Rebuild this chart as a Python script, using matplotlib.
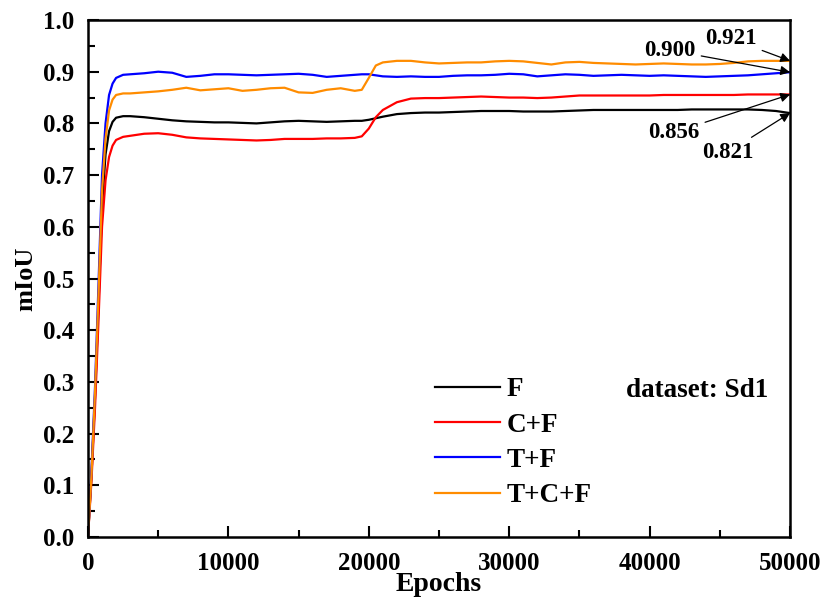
import matplotlib
matplotlib.use("Agg")
import matplotlib.pyplot as plt
from matplotlib.ticker import MultipleLocator

epochs = [0, 250, 500, 750, 1000, 1250, 1500, 1750, 2000, 2500,
          3000, 4000, 5000, 6000, 7000, 8000, 9000, 10000, 11000, 12000,
          13000, 14000, 15000, 16000, 17000, 18000, 19000, 19500, 20000, 20500,
          21000, 22000, 23000, 24000, 25000, 26000, 27000, 28000, 29000, 30000,
          31000, 32000, 33000, 34000, 35000, 36000, 37000, 38000, 39000, 40000,
          41000, 42000, 43000, 44000, 45000, 46000, 47000, 48000, 49000, 50000]

miou_f = [0.0, 0.12, 0.27, 0.45, 0.64, 0.74, 0.785, 0.803, 0.811, 0.814,
          0.814, 0.812, 0.809, 0.806, 0.804, 0.803, 0.802, 0.802, 0.801, 0.800,
          0.802, 0.804, 0.805, 0.804, 0.803, 0.804, 0.805, 0.805, 0.807, 0.810,
          0.813, 0.818, 0.820, 0.821, 0.821, 0.822, 0.823, 0.824, 0.824, 0.824,
          0.823, 0.823, 0.823, 0.824, 0.825, 0.826, 0.826, 0.826, 0.826, 0.826,
          0.826, 0.826, 0.827, 0.827, 0.827, 0.827, 0.827, 0.826, 0.824, 0.820]

miou_cf = [0.0, 0.11, 0.25, 0.42, 0.60, 0.69, 0.735, 0.757, 0.768, 0.774,
           0.776, 0.780, 0.781, 0.778, 0.773, 0.771, 0.770, 0.769, 0.768, 0.767,
           0.768, 0.770, 0.770, 0.770, 0.771, 0.771, 0.772, 0.775, 0.790, 0.812,
           0.826, 0.841, 0.848, 0.849, 0.849, 0.850, 0.851, 0.852, 0.851, 0.850,
           0.850, 0.849, 0.850, 0.852, 0.854, 0.854, 0.854, 0.854, 0.854, 0.854,
           0.855, 0.855, 0.855, 0.855, 0.855, 0.855, 0.856, 0.856, 0.856, 0.856]

miou_tf = [0.0, 0.13, 0.29, 0.49, 0.70, 0.80, 0.855, 0.877, 0.888, 0.894,
           0.895, 0.897, 0.900, 0.898, 0.890, 0.892, 0.895, 0.895, 0.894, 0.893,
           0.894, 0.895, 0.896, 0.894, 0.890, 0.892, 0.894, 0.895, 0.895, 0.893,
           0.891, 0.890, 0.891, 0.890, 0.890, 0.892, 0.893, 0.893, 0.894, 0.896,
           0.895, 0.891, 0.893, 0.895, 0.894, 0.892, 0.893, 0.894, 0.893, 0.892,
           0.893, 0.892, 0.891, 0.890, 0.891, 0.892, 0.893, 0.895, 0.897, 0.899]

miou_tcf = [0.0, 0.12, 0.28, 0.47, 0.67, 0.77, 0.825, 0.846, 0.855, 0.858,
            0.858, 0.860, 0.862, 0.865, 0.869, 0.864, 0.866, 0.868, 0.863, 0.865,
            0.868, 0.869, 0.860, 0.859, 0.865, 0.868, 0.863, 0.865, 0.888, 0.912,
            0.918, 0.921, 0.921, 0.918, 0.916, 0.917, 0.918, 0.918, 0.920, 0.921,
            0.920, 0.917, 0.914, 0.918, 0.919, 0.917, 0.916, 0.915, 0.914, 0.915,
            0.916, 0.915, 0.914, 0.914, 0.915, 0.917, 0.920, 0.921, 0.921, 0.921]

series = [("F", miou_f, "black"),
          ("C+F", miou_cf, "#ff0000"),
          ("T+F", miou_tf, "#0000ff"),
          ("T+C+F", miou_tcf, "#ff8c00")]

# final values marked with arrows: (label, value, text offset in pixels)
final_notes = [("0.921", 0.921, (-59, 22)),
               ("0.900", 0.899, (-120, 22)),
               ("0.856", 0.856, (-116, -38)),
               ("0.821", 0.820, (-62, -39))]

plt.rcParams["font.family"] = ["Liberation Serif", "DejaVu Serif"]
plt.rcParams["font.weight"] = "bold"

fig = plt.figure(figsize=(8.27, 6.01), dpi=100)
ax = fig.add_axes([0.1064, 0.1065, 0.8489, 0.8602])

for name, values, color in series:
    ax.plot(epochs, values, color=color, linewidth=1.6, label=name)

ax.set_xlim(0, 50000)
ax.set_ylim(0, 1.0)
ax.xaxis.set_major_locator(MultipleLocator(10000))
ax.xaxis.set_minor_locator(MultipleLocator(5000))
ax.yaxis.set_major_locator(MultipleLocator(0.1))
ax.yaxis.set_minor_locator(MultipleLocator(0.05))
ax.yaxis.set_major_formatter(plt.FormatStrFormatter("%.1f"))

ax.tick_params(which="both", direction="in", width=1.5, labelsize=18)
ax.tick_params(axis="x", pad=11)
ax.tick_params(axis="y", pad=10)
ax.tick_params(which="major", length=8)
ax.tick_params(which="minor", length=5)
for spine in ax.spines.values():
    spine.set_linewidth(1.8)

ax.set_xlabel("Epochs", fontsize=20, fontweight="bold", labelpad=-2)
ax.set_ylabel("mIoU", fontsize=19, fontweight="bold", labelpad=4)

for text, value, offset in final_notes:
    ax.annotate(text, xy=(epochs[-1], value), xytext=offset,
                textcoords="offset pixels", ha="center", va="center",
                fontsize=16.5, fontweight="bold",
                arrowprops=dict(arrowstyle="-|>", color="black", lw=0.9,
                                mutation_scale=14, shrinkA=2, shrinkB=0))

ax.legend(loc="upper left", bbox_to_anchor=(0.494, 0.309), frameon=False,
          fontsize=19.5, handlelength=2.4, handletextpad=0.25,
          labelspacing=0.38, borderpad=0, borderaxespad=0)
ax.text(0.868, 0.283, "dataset: Sd1", transform=ax.transAxes,
        ha="center", va="center", fontsize=19.5, fontweight="bold")

fig.savefig("out.png", dpi=100)
